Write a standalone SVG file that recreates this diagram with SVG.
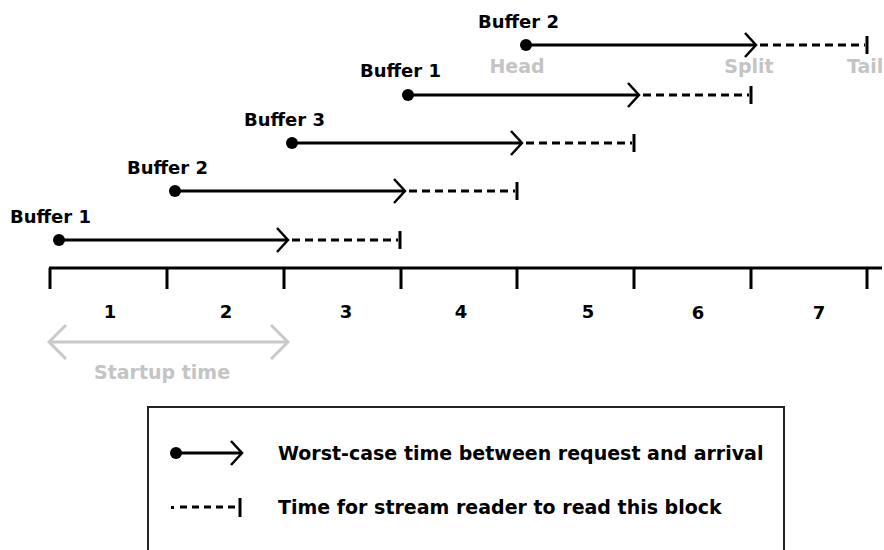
<svg xmlns="http://www.w3.org/2000/svg" width="884" height="550" viewBox="0 0 884 550">
<style>
  text { font-family: "DejaVu Sans", "Liberation Sans", sans-serif; font-weight: bold; font-size: 18px; fill: #000; }
  .gray { fill: #c4c4c4; font-size: 19px; }
  .legend { font-size: 19px; }
  .num { text-anchor: middle; }
  .solid { stroke: #000; stroke-width: 3; fill: none; }
  .dash { stroke: #000; stroke-width: 3; fill: none; stroke-dasharray: 8 5; }
  .tick { stroke: #000; stroke-width: 3; fill: none; }
  .axis { stroke: #000; stroke-width: 3; fill: none; }
  .startup { stroke: #c8c8c8; stroke-width: 3; fill: none; }
</style>
<defs>
  <marker id="dot" viewBox="-7 -7 14 14" markerWidth="14" markerHeight="14" markerUnits="userSpaceOnUse" refX="0" refY="0" orient="auto">
    <circle cx="0" cy="0" r="6" fill="#000"/>
  </marker>
  <marker id="chev" viewBox="-14 -14 16 28" markerWidth="16" markerHeight="28" markerUnits="userSpaceOnUse" refX="0" refY="0" orient="auto">
    <path d="M -11 -12 L 0 0 L -11 12" fill="none" stroke="#000" stroke-width="2.5"/>
  </marker>
  <marker id="chevGray" viewBox="-20 -20 22 40" markerWidth="22" markerHeight="40" markerUnits="userSpaceOnUse" refX="0" refY="0" orient="auto-start-reverse">
    <path d="M -17 -17 L 0 0 L -17 17" fill="none" stroke="#c8c8c8" stroke-width="3"/>
  </marker>
</defs>
<rect width="884" height="550" fill="#fff"/>

<!-- Time axis -->
<g id="axis">
  <path class="axis" d="M 49 268 H 882"/>
  <path class="tick" d="M 50 268 V 289 M 167 268 V 289 M 284 268 V 289 M 401 268 V 289 M 517 268 V 289 M 634 268 V 289 M 751 268 V 289 M 867 268 V 289"/>
  <text class="num" x="110" y="318">1</text>
  <text class="num" x="226" y="318">2</text>
  <text class="num" x="346" y="318">3</text>
  <text class="num" x="461" y="318">4</text>
  <text class="num" x="588" y="318">5</text>
  <text class="num" x="698" y="319">6</text>
  <text class="num" x="819" y="319">7</text>
</g>

<!-- Startup time -->
<g id="startup">
  <path class="startup" d="M 49 342 H 288" marker-start="url(#chevGray)" marker-end="url(#chevGray)"/>
  <text class="gray" x="162" y="379" text-anchor="middle">Startup time</text>
</g>

<!-- Buffer labels -->
<g id="row1"><text x="10" y="223">Buffer 1</text></g>
<g id="row2"><text x="127" y="174">Buffer 2</text></g>
<g id="row3"><text x="244" y="126">Buffer 3</text></g>
<g id="row4"><text x="360" y="77">Buffer 1</text></g>
<g id="row5">
  <text x="478" y="28">Buffer 2</text>
  <text class="gray" x="517" y="73" text-anchor="middle">Head</text>
  <text class="gray" x="749" y="73" text-anchor="middle">Split</text>
  <text class="gray" x="847" y="73">Tail</text>
</g>

<!-- Connectors -->
<g id="connectors">
  <path class="solid" d="M 59 240 H 288" marker-start="url(#dot)" marker-end="url(#chev)"/>
  <path class="dash" d="M 292 240 H 398"/>
  <path class="tick" d="M 400 231 V 249"/>

  <path class="solid" d="M 175 191 H 405" marker-start="url(#dot)" marker-end="url(#chev)"/>
  <path class="dash" d="M 409 191 H 515"/>
  <path class="tick" d="M 517 182 V 200"/>

  <path class="solid" d="M 292 143 H 522" marker-start="url(#dot)" marker-end="url(#chev)"/>
  <path class="dash" d="M 526 143 H 632"/>
  <path class="tick" d="M 634 134 V 152"/>

  <path class="solid" d="M 408 95 H 639" marker-start="url(#dot)" marker-end="url(#chev)"/>
  <path class="dash" d="M 643 95 H 749"/>
  <path class="tick" d="M 751 86 V 104"/>

  <path class="solid" d="M 526 45 H 756" marker-start="url(#dot)" marker-end="url(#chev)"/>
  <path class="dash" d="M 760 45 H 865"/>
  <path class="tick" d="M 867 36 V 54"/>
</g>

<!-- Legend -->
<g id="legend">
  <rect x="148" y="407" width="636" height="160" fill="none" stroke="#222" stroke-width="2"/>
  <path class="solid" d="M 176 453 H 242" marker-start="url(#dot)" marker-end="url(#chev)"/>
  <text class="legend" x="278" y="460">Worst-case time between request and arrival</text>
  <rect x="171" y="506" width="3" height="3" fill="#000"/>
  <path class="dash" d="M 180 507 H 240" style="stroke-dasharray: 7 5"/>
  <path class="tick" d="M 240 498 V 517"/>
  <text class="legend" x="278" y="514">Time for stream reader to read this block</text>
</g>
</svg>
